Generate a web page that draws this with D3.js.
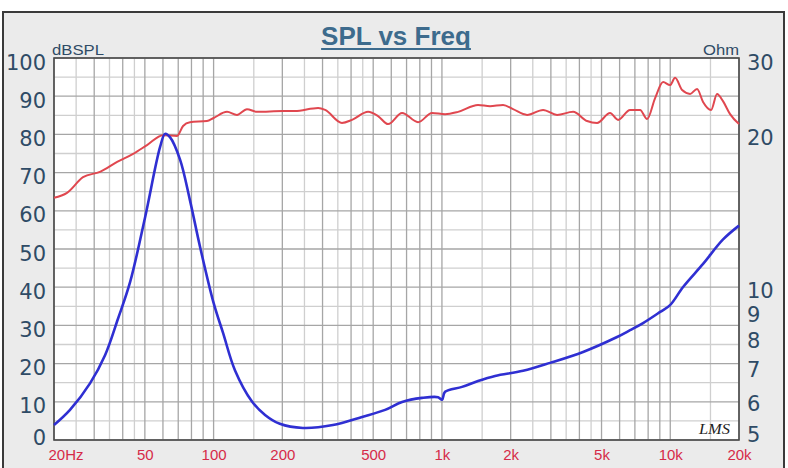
<!DOCTYPE html>
<html><head><meta charset="utf-8">
<script src="https://cdn.jsdelivr.net/npm/d3@7/dist/d3.min.js"></script>
<style>body{margin:0;background:#fff}svg{display:block}</style>
</head><body><svg id="c" width="788" height="468"></svg>
<script>
// ---- data ----
const splFreq = [20,22.8,26.8,31.8,37.8,44.4,51.1,60,69.2,73.5,78.8,93.5,100,114.5,126.6,140,155,201,227,287,308,365,404,475,525,581,669,786,905,1032,1177,1439,1624,1853,2048,2360,2774,3194,3754,4322,4781,5450,5908,6668,7376,7916,8582,9305,9980,10500,11270,12216,13106,13920,15092,16032,17020,18280,20000];
const splDb   = [63.4,64.7,68.8,70.2,72.8,74.9,77.2,79.8,79.6,82.2,83.2,83.5,84.3,85.9,85.1,86.6,85.9,86.1,86.1,86.9,86.4,83.0,83.8,85.9,84.8,82.7,85.6,83.2,85.6,85.3,85.9,87.7,87.4,87.7,86.6,85.1,86.4,85.1,85.9,83.5,83.0,85.6,83.8,86.4,86.4,84.0,89.5,93.7,92.9,94.8,91.6,90.6,91.9,88.5,86.4,90.6,88.7,85.3,82.7];
const impFreq = [20,23.5,28.8,33.5,38.1,43.1,50.1,58.3,61.3,64.4,71.3,78.8,87.2,100,110,124,147,168,195,246,333,447,564,669,818,962,1001,1032,1225,1439,1709,2266,2976,4152,5848,6668,7600,9027,9980,11380,13920,17030,20000];
const impOhm  = [5.35,5.73,6.47,7.35,8.65,10.23,13.7,18.85,20.0,19.7,17.8,14.8,12.0,9.30,8.12,6.86,5.96,5.60,5.38,5.28,5.35,5.55,5.73,5.94,6.05,6.07,6.00,6.22,6.36,6.53,6.68,6.84,7.09,7.45,7.97,8.22,8.49,8.93,9.21,10.0,11.1,12.4,13.2];
const leftTicks = [0,10,20,30,40,50,60,70,80,90,100];
const rightTicks = [5,6,7,8,9,10,20,30];
const xTickValues = [20,50,100,200,500,1000,2000,5000,10000,20000];
const xTickLabels = ["20Hz","50","100","200","500","1k","2k","5k","10k","20k"];
const gridDecades = [10,100,1000,10000];
const gridMajorMult = [1,2,3,4,5,6,7,8,9];
const gridMinorMult = [1.5,2.5,3.5,4.5];
const titleText = "SPL vs Freq";

// ---- layout ----
const X0 = 54, X1 = 739, Y0 = 58, Y1 = 440;
const svg = d3.select("#c");

const x = d3.scaleLog().domain([20, 20000]).range([X0, X1]);
const yL = d3.scaleLinear().domain([0, 100]).range([Y1, Y0]);
const yR = d3.scaleLog().domain([5, 28.2]).range([Y1, Y0]).clamp(true);

// panel
svg.append("rect").attr("x", 3).attr("y", 12).attr("width", 781).attr("height", 470)
  .attr("fill", "#ebebeb").attr("stroke", "#3a3a3a").attr("stroke-width", 2);
svg.append("rect").attr("x", X0).attr("y", Y0).attr("width", X1 - X0).attr("height", Y1 - Y0)
  .attr("fill", "#ffffff");

// grid
const inRange = f => f >= 20 && f <= 20000;
const majF = [], minF = [];
gridDecades.forEach(d => {
  gridMajorMult.forEach(m => { if (inRange(d*m)) majF.push(d*m); });
  gridMinorMult.forEach(m => { if (inRange(d*m)) minF.push(d*m); });
});
const g = svg.append("g");
g.selectAll(".vmin").data(minF).join("line")
  .attr("x1", d => x(d)).attr("x2", d => x(d)).attr("y1", Y0).attr("y2", Y1)
  .attr("stroke", "#cfcfcf").attr("stroke-width", 1.3);
g.selectAll(".hl").data(d3.range(0, 101, 5)).join("line")
  .attr("x1", X0).attr("x2", X1).attr("y1", d => yL(d)).attr("y2", d => yL(d))
  .attr("stroke", d => d % 10 === 0 ? "#a6a6a6" : "#cfcfcf").attr("stroke-width", 1.3);
g.selectAll(".vmaj").data(majF).join("line")
  .attr("x1", d => x(d)).attr("x2", d => x(d)).attr("y1", Y0).attr("y2", Y1)
  .attr("stroke", "#a6a6a6").attr("stroke-width", 1.3);

// plot border
svg.append("rect").attr("x", X0).attr("y", Y0).attr("width", X1 - X0).attr("height", Y1 - Y0)
  .attr("fill", "none").attr("stroke", "#4a4a4a").attr("stroke-width", 1.6);

// curves
const spl = splFreq.map((f, i) => [f, splDb[i]]);
const imp = impFreq.map((f, i) => [f, impOhm[i]]);
svg.append("path").datum(spl)
  .attr("d", d3.line().x(d => x(d[0])).y(d => yL(d[1])).curve(d3.curveMonotoneX))
  .attr("fill", "none").attr("stroke", "#e0474f").attr("stroke-width", 2);
svg.append("path").datum(imp)
  .attr("d", d3.line().x(d => x(d[0])).y(d => yR(d[1])).curve(d3.curveCatmullRom.alpha(0.5)))
  .attr("fill", "none").attr("stroke", "#2f2fd2").attr("stroke-width", 2.6);

// left axis
const axL = svg.append("g").attr("transform", `translate(${X0},0)`)
  .call(d3.axisLeft(yL).tickValues(leftTicks).tickSize(0).tickPadding(8).tickFormat(d3.format("d")));
axL.select(".domain").remove();
axL.selectAll("text").attr("font-family", "DejaVu Sans").attr("font-size", 21)
  .attr("fill", "#2f4b66").attr("dy", null).attr("dominant-baseline", "central")
  .attr("y", d => Math.max(62, Math.min(437, yL(d) + 4)) - yL(d));

// right axis
const axR = svg.append("g").attr("transform", `translate(${X1},0)`)
  .call(d3.axisRight(yR).tickValues(rightTicks).tickSize(0).tickPadding(8).tickFormat(d3.format("d")));
axR.select(".domain").remove();
axR.selectAll("text").attr("font-family", "DejaVu Sans").attr("font-size", 21)
  .attr("fill", "#2f4b66").attr("dy", null).attr("dominant-baseline", "central")
  .attr("y", d => Math.max(62, Math.min(434, yR(d) + 4)) - yR(d));

// bottom axis
const axB = svg.append("g").attr("transform", `translate(0,${Y1})`)
  .call(d3.axisBottom(x).tickValues(xTickValues).tickSize(0).tickPadding(15)
    .tickFormat((d, i) => xTickLabels[i]));
axB.select(".domain").remove();
axB.selectAll("text").attr("font-family", "Liberation Sans, Arial").attr("font-size", 15)
  .attr("fill", "#d62a48").attr("dy", "0.32em")
  .attr("text-anchor", (d, i) => i === 0 ? "start" : "middle")
  .attr("x", (d, i) => i === 0 ? -6 : 0);

// unit labels
svg.append("text").attr("x", 52).attr("y", 55).text("dBSPL")
  .attr("font-family", "Liberation Sans, Arial").attr("font-size", 14)
  .attr("textLength", 52).attr("lengthAdjust", "spacingAndGlyphs").attr("fill", "#2f4b66");
svg.append("text").attr("x", 703).attr("y", 55).text("Ohm")
  .attr("font-family", "Liberation Sans, Arial").attr("font-size", 14)
  .attr("textLength", 36).attr("lengthAdjust", "spacingAndGlyphs").attr("fill", "#2f4b66");

// title
const title = svg.append("text").attr("x", 396).attr("y", 45).attr("text-anchor", "middle")
  .text(titleText).attr("font-family", "Liberation Sans, Arial").attr("font-weight", "bold")
  .attr("font-size", 26).attr("fill", "#3d6b8d");
const tw = title.node().getComputedTextLength();
svg.append("line").attr("x1", 396 - tw/2).attr("x2", 396 + tw/2).attr("y1", 49).attr("y2", 49)
  .attr("stroke", "#3d6b8d").attr("stroke-width", 2);

// LMS mark
svg.append("text").attr("x", 699).attr("y", 434).text("LMS")
  .attr("font-family", "Liberation Serif").attr("font-style", "italic").attr("font-size", 14)
  .attr("textLength", 31).attr("lengthAdjust", "spacingAndGlyphs").attr("fill", "#222");
</script></body></html>
